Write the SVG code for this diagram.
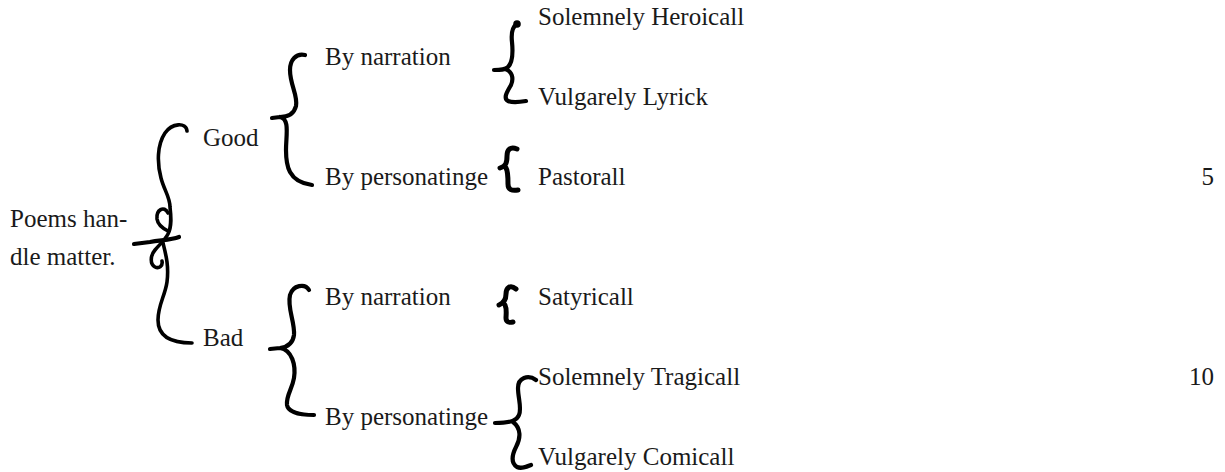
<svg xmlns="http://www.w3.org/2000/svg" width="1225" height="472" viewBox="0 0 1225 472">
<style>
text{font-family:"Liberation Serif","Times New Roman",serif;font-size:25px;fill:#1a1a1a}
.br{fill:none;stroke:#000;stroke-linecap:round;stroke-linejoin:round}
.t{stroke-width:3.6}
.m{stroke-width:4.2}
.k{stroke-width:5}
</style>
<rect width="1225" height="472" fill="#fff"/>
<g id="connectors">
<path class="br t" d="M187,131 C186,122 172,123 165,133 C157,145 157,163 161,178 C164,190 170,197 170,207 C171,216 172,226 168,234 C165,240 160,244 155,250 C150,256 150,264 155,267 C159,269 163,266 162,261"/>
<path class="br t" d="M168,213 C164,205 156,210 157,219 C158,226 164,229 168,231"/>
<path class="br t" d="M163,243 C166,255 169,266 167,282 C165,296 158,305 158,320 C158,336 170,343 192,343"/>
<path class="br m" d="M134,244 L150,242 C161,240 171,240 179,237"/>
<path class="br m" d="M305,55 C296,53 290,60 290,70 C290,85 298,95 296,106 C294,114 288,117 280,117 L272,118 M280,117 C290,119 286,135 286,150 C286,165 288,182 312,185"/>
<path class="br m" d="M309,290 C305,283 293,285 290,295 C287,308 295,322 294,335 C293,343 288,347 280,348 L270,349 M280,348 C292,350 296,365 294,378 C292,390 286,395 287,405 C288,412 300,415 314,415"/>
<path class="br m" d="M517,24 C512,27 511,33 512,42 C513,52 513,62 508,67 C505,70 500,70 494,70 M505,69 C512,71 514,78 511,85 C507,92 503,98 508,101 C513,103 520,102 526,101"/>
<circle cx="517" cy="24" r="3.8" fill="#000"/>
<path class="br k" d="M517,149 C510,146 507,150 507,156 C507,163 506,166 500,168 M506,168 C508,171 508,178 508,184 C508,190 512,191 518,190"/>
<path class="br k" d="M516,289 C510,284 506,288 506,294 C506,300 504,303 499,305 M505,305 C507,309 506,315 506,318 C506,322 509,323 513,322"/>
<path class="br m" d="M536,380 C528,374 518,378 518,388 C518,398 522,408 519,415 C517,420 512,423 495,423 M513,422 C521,428 521,438 516,447 C512,455 511,463 517,467 C521,469 526,467 531,465"/>
</g>
<g id="root"><text x="10" y="227">Poems han-</text><text x="10" y="265">dle matter.</text></g>
<g id="good"><text x="203" y="146">Good</text></g>
<g id="bad"><text x="203" y="346">Bad</text></g>
<g id="good-narration"><text x="325" y="65">By narration</text></g>
<g id="good-personatinge"><text x="325" y="185">By personatinge</text></g>
<g id="bad-narration"><text x="325" y="305">By narration</text></g>
<g id="bad-personatinge"><text x="325" y="425">By personatinge</text></g>
<g id="heroicall"><text x="538" y="25">Solemnely Heroicall</text></g>
<g id="lyrick"><text x="538" y="105">Vulgarely Lyrick</text></g>
<g id="pastorall"><text x="538" y="185">Pastorall</text></g>
<g id="satyricall"><text x="538" y="305">Satyricall</text></g>
<g id="tragicall"><text x="538" y="385">Solemnely Tragicall</text></g>
<g id="comicall"><text x="538" y="465">Vulgarely Comicall</text></g>
<g id="line-numbers"><text x="1214" y="185" text-anchor="end">5</text><text x="1214" y="385" text-anchor="end">10</text></g>
</svg>
